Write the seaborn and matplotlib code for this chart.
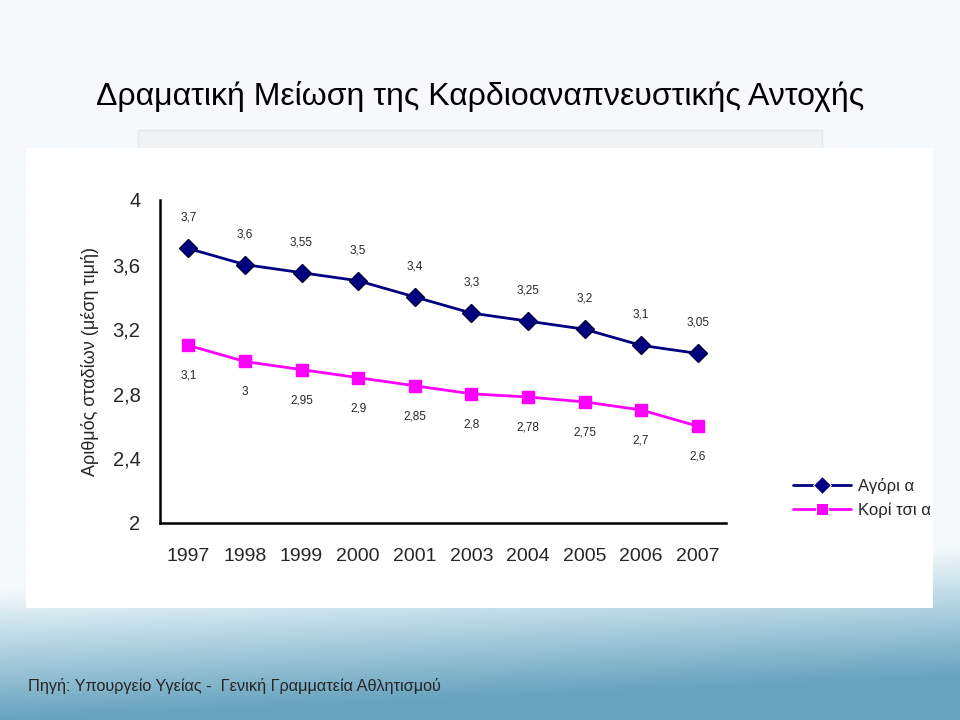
import numpy as np
import pandas as pd
import matplotlib
matplotlib.use("Agg")
import matplotlib.pyplot as plt
from matplotlib.patches import Rectangle
import seaborn as sns

years = ["1997", "1998", "1999", "2000", "2001", "2003", "2004", "2005", "2006", "2007"]
boys = [3.7, 3.6, 3.55, 3.5, 3.4, 3.3, 3.25, 3.2, 3.1, 3.05]
girls = [3.1, 3.0, 2.95, 2.9, 2.85, 2.8, 2.78, 2.75, 2.7, 2.6]
series_names = ["Αγόρι α", "Κορί τσι α"]
y_ticks = [2, 2.4, 2.8, 3.2, 3.6, 4]

title = "Δραματική Μείωση της Καρδιοαναπνευστικής Αντοχής"
y_label = "Αριθμός σταδίων (μέση τιμή)"
source = "Πηγή: Υπουργείο Υγείας -  Γενική Γραμματεία Αθλητισμού"

sns.set_style("white")
plt.rcParams['font.family'] = ['Liberation Sans', 'DejaVu Sans']

fig = plt.figure(figsize=(9.6, 7.2), dpi=100)

# slide background gradient
bg = fig.add_axes([0, 0, 1, 1], zorder=-10)
yy = np.linspace(0, 1, 300)[:, None]
xx = np.linspace(0, 1, 400)[None, :]
top = np.array([246, 249, 251]) / 255
mid = np.array([200, 225, 235]) / 255
bot = np.array([104, 163, 190]) / 255
t = np.clip((yy - 0.82 + 0.06 * xx) / 0.18, 0, 1)[..., None]
img = np.where(t < 0.3, top + (mid - top) * (t / 0.3),
               mid + (bot - mid) * ((t - 0.3) / 0.7))
bg.imshow(img, extent=[0, 1, 0, 1], aspect="auto", origin="upper")
bg.set_axis_off()
bg.add_patch(Rectangle((138 / 960, 1 - 160 / 720), (822 - 138) / 960, 30 / 720,
                       facecolor="#f0f2f4", edgecolor="#e6e9ec", lw=1))
bg.add_patch(Rectangle((26 / 960, 1 - 608 / 720), (933 - 26) / 960, (608 - 148) / 720,
                       facecolor="white", edgecolor="none"))

fig.text(0.5, 1 - 96 / 720, title, ha="center", va="center", fontsize=23, color="black")

ax = fig.add_axes([160 / 960, 1 - 523 / 720, (726 - 160) / 960, (523 - 200) / 720])
ax.patch.set_alpha(0)

df = pd.DataFrame({"year": years * 2,
                   "value": boys + girls,
                   "group": [series_names[0]] * len(years) + [series_names[1]] * len(years)})

sns.lineplot(data=df, x="year", y="value", hue="group", style="group",
             palette=["#000080", "#FF00FF"], markers=["D", "s"], dashes=False,
             markersize=9, linewidth=2, ax=ax)
for line, mec in zip(ax.lines[:2], ["#000040", "#FF00FF"]):
    line.set_markeredgecolor(mec)
    line.set_markeredgewidth(1)

for i, (b, g) in enumerate(zip(boys, girls)):
    ax.annotate(f"{b:g}".replace(".", ","), (i, b), xytext=(0, 22), textcoords="offset points",
                ha="center", va="center", fontsize=8.5)
    ax.annotate(f"{g:g}".replace(".", ","), (i, g), xytext=(0, -22), textcoords="offset points",
                ha="center", va="center", fontsize=8.5)

ax.set_xlim(-0.5, len(years) - 0.5)
ax.set_ylim(2, 4)
ax.set_yticks(y_ticks)
ax.set_yticklabels([f"{v:g}".replace(".", ",") for v in y_ticks], fontsize=14.5)
ax.set_xticks(np.arange(len(years)))
ax.set_xticklabels(years, fontsize=14)
ax.set_xticks(np.arange(-0.5, len(years)), minor=True)
ax.tick_params(axis="x", which="major", length=0, pad=18)
ax.tick_params(axis="x", which="minor", length=6, width=1.5, direction="out", color="black")
ax.tick_params(axis="y", length=6, width=1.5, direction="out", color="black", pad=8)
ax.set_xlabel("")
ax.set_ylabel(y_label, fontsize=13, labelpad=10)
for s in ["top", "right"]:
    ax.spines[s].set_visible(False)
for s in ["left", "bottom"]:
    ax.spines[s].set_color("black")
    ax.spines[s].set_linewidth(1.8)

ax.legend(loc="upper left", bbox_to_anchor=(778 / 960, 1 - 463 / 720),
          bbox_transform=fig.transFigure, frameon=False, fontsize=12,
          handlelength=3.5, labelspacing=0.5, handletextpad=0.4)

fig.text(28 / 960, 1 - 686 / 720, source, ha="left", va="center", fontsize=11.7)

fig.savefig("out.png", dpi=100)
